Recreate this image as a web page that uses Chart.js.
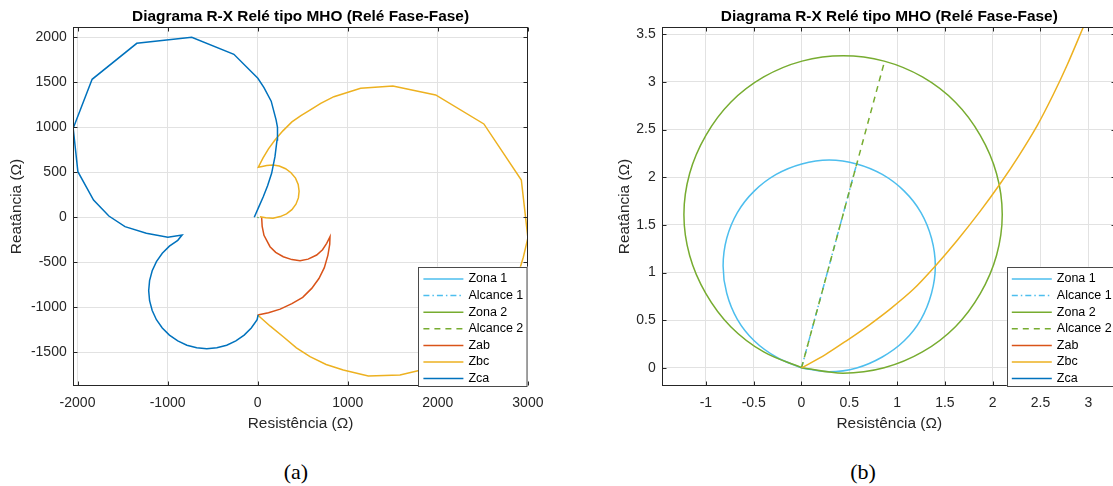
<!DOCTYPE html>
<html lang="pt-BR">
<head>
<meta charset="utf-8">
<title>Diagrama R-X Relé tipo MHO</title>
<script src="https://cdn.jsdelivr.net/npm/chart.js@4.4.1/dist/chart.umd.min.js"></script>
<style>
    body { margin: 0; background: #fff; }
    .figura { position: relative; width: 1113px; height: 486px; overflow: hidden; background: #fff; }
    #graficoA { position: absolute; left: 0; top: 0; }
    #graficoB { position: absolute; left: 560px; top: 0; }
    .rotulo_fig {
        position: absolute; top: 460px; width: 60px; text-align: center;
        font-family: "Liberation Serif", "Times New Roman", serif; font-size: 22px; line-height: 24px; color: #000;
    }
</style>
</head>
<body>
<div class="figura">
    <canvas id="graficoA" width="556" height="440"></canvas>
    <canvas id="graficoB" width="570" height="440"></canvas>
    <div class="rotulo_fig" style="left: 266px;">(a)</div>
    <div class="rotulo_fig" style="left: 833px;">(b)</div>
</div>
<script>
// Grafico (a): trajetorias das impedancias (ohms)
const zabR = [44, 50, 70, 137, 200, 284, 380, 470, 560, 655, 720, 766, 803, 800, 780, 740, 680, 600, 500, 380, 250, 120, 0];
const zabX = [0, -100, -200, -327, -390, -438, -470, -482, -465, -419, -360, -289, -215, -300, -420, -560, -680, -790, -890, -960, -1020, -1060, -1085];

const zbcR = [25, 90, 170, 250, 320, 380, 425, 452, 460, 450, 420, 370, 310, 240, 170, 100, 50, 7, 60, 120, 192, 280, 380, 480, 580, 700, 846, 1143, 1501, 1976, 2511, 2927, 3000, 2949, 2820, 2550, 2200, 1897, 1580, 1228, 950, 760, 581, 430, 284, 140, 0];
const zbcX = [7, -5, -10, 8, 38, 85, 145, 215, 290, 365, 435, 495, 540, 570, 580, 575, 565, 556, 660, 760, 859, 960, 1060, 1130, 1190, 1265, 1340, 1433, 1459, 1359, 1037, 414, -230, -444, -870, -1270, -1560, -1678, -1752, -1763, -1697, -1635, -1549, -1450, -1327, -1210, -1085];

const zcaR = [-38, 10, 62, 110, 155, 192, 215, 220, 205, 150, 70, 2, -264, -732, -1342, -1838, -2048, -1996, -1822, -1652, -1473, -1236, -997, -839,
    -887, -980, -1059, -1124, -1171, -1200, -1210, -1200, -1171, -1124, -1059, -980, -887, -786, -677, -565, -453, -344, -242, -150, -71, -6, 5];
const zcaX = [0, 110, 229, 350, 489, 673, 859, 1000, 1080, 1290, 1440, 1544, 1811, 2000, 1933, 1533, 989, 507, 192, 14, -104, -178, -222, -197,
    -256, -321, -400, -492, -594, -703, -815, -927, -1036, -1138, -1230, -1309, -1374, -1421, -1450, -1460, -1450, -1421, -1374, -1309, -1230, -1138, -1085];

// Grafico (b): zonas do rele MHO e Zbc perto da origem
const zona1R = [0.003, 0.29, 0.577, 0.845, 1.075, 1.25, 1.36, 1.40, 1.36, 1.25, 1.075, 0.845, 0.577, 0.29, 0.003, -0.265, -0.495, -0.671, -0.782, -0.82, -0.782, -0.671, -0.495, -0.265, 0.003];
const zona1X = [0.0, -0.04, 0.0, 0.115, 0.285, 0.51, 0.783, 1.07, 1.36, 1.63, 1.855, 2.03, 2.14, 2.18, 2.14, 2.03, 1.855, 1.63, 1.36, 1.07, 0.783, 0.51, 0.285, 0.115, 0.0];
const alcance1R = [0, 0.58];
const alcance1X = [0, 2.15];

const zona2R = [0.005, 0.435, 0.865, 1.265, 1.61, 1.87, 2.04, 2.10, 2.04, 1.87, 1.61, 1.265, 0.865, 0.435, 0.005, -0.395, -0.74, -1.0, -1.17, -1.23, -1.17, -1.0, -0.74, -0.395, 0.005];
const zona2X = [0.002, -0.055, 0.002, 0.168, 0.433, 0.78, 1.18, 1.61, 2.04, 2.44, 2.787, 3.052, 3.218, 3.275, 3.218, 3.052, 2.787, 2.44, 2.04, 1.61, 1.18, 0.78, 0.433, 0.168, 0.002];
const alcance2R = [0, 0.87];
const alcance2X = [0, 3.22];

const zbcBR = [0, 0.25, 0.47, 0.70, 0.93, 1.17, 1.40, 1.63, 1.87, 2.08, 2.27, 2.47, 2.63, 2.78, 2.95];
const zbcBX = [0, 0.14, 0.285, 0.445, 0.62, 0.825, 1.07, 1.34, 1.645, 1.935, 2.22, 2.55, 2.86, 3.18, 3.58];

// Marcas dos eixos
const xTicksA = [-2000, -1000, 0, 1000, 2000, 3000];
const yTicksA = [-1500, -1000, -500, 0, 500, 1000, 1500, 2000];
const xTicksB = [-1, -0.5, 0, 0.5, 1, 1.5, 2, 2.5, 3];
const yTicksB = [0, 0.5, 1, 1.5, 2, 2.5, 3, 3.5];

const nomes = ['Zona 1', 'Alcance 1', 'Zona 2', 'Alcance 2', 'Zab', 'Zbc', 'Zca'];
const cores = ['#4DBEEE', '#4DBEEE', '#77AC30', '#77AC30', '#D95319', '#EDB120', '#0072BD'];
const tracos = [[], [6, 3, 1.5, 3], [], [6, 5], [], [], []];

const tituloGrafico = 'Diagrama R-X Relé tipo MHO (Relé Fase-Fase)';
const corTexto = '#262626';
const corGrade = '#e2e2e2';

Chart.defaults.font.family = '"Liberation Sans", Arial, sans-serif';
Chart.defaults.color = corTexto;

function pontos(r, x) {
    return r.map((v, i) => ({ x: v, y: x[i] }));
}

function montarDatasets(curvas, tensoes) {
    return curvas.map((c, i) => ({
        label: nomes[i],
        data: pontos(c[0], c[1]),
        borderColor: cores[i],
        borderDash: tracos[i],
        borderWidth: 1.5,
        showLine: true,
        pointRadius: 0,
        fill: false,
        tension: tensoes[i],
        order: -i // as ultimas curvas ficam por cima, como no MATLAB
    }));
}

function desenharLegenda(chart) {
    const ctx = chart.ctx;
    const area = chart.chartArea;
    const largura = 109.5;
    const altura = 120;
    const x0 = area.right - largura;
    const y0 = area.bottom - altura + 1;

    ctx.save();
    ctx.fillStyle = '#ffffff';
    ctx.fillRect(x0, y0, largura, altura);
    ctx.strokeStyle = '#4a4a4a';
    ctx.lineWidth = 1;
    ctx.strokeRect(Math.round(x0) + 0.5, Math.round(y0) + 0.5, largura - 1, altura - 1);

    chart.data.datasets.forEach((ds, i) => {
        const y = y0 + 12.3 + i * 16.6;
        ctx.setLineDash(ds.borderDash);
        ctx.strokeStyle = ds.borderColor;
        ctx.lineWidth = 1.5;
        ctx.beginPath();
        ctx.moveTo(x0 + 5, y);
        ctx.lineTo(x0 + 45, y);
        ctx.stroke();
        ctx.setLineDash([]);
        ctx.fillStyle = '#000000';
        ctx.font = '12.5px "Liberation Sans", Arial, sans-serif';
        ctx.textBaseline = 'middle';
        ctx.fillText(ds.label, x0 + 50, y);
    });
    ctx.restore();
}

// caixa dos eixos com marcas internas e legenda por cima
const moldura = {
    id: 'moldura',
    afterDatasetsDraw(chart) {
        const ctx = chart.ctx;
        const a = chart.chartArea;
        const esq = Math.round(a.left) + 0.5, dir = Math.round(a.right) - 0.5;
        const topo = Math.round(a.top) + 0.5, base = Math.round(a.bottom) - 0.5;
        ctx.save();
        ctx.strokeStyle = corTexto;
        ctx.lineWidth = 1;
        ctx.strokeRect(esq, topo, dir - esq, base - topo);
        ctx.beginPath();
        chart.scales.x.ticks.forEach(t => {
            const px = Math.round(chart.scales.x.getPixelForValue(t.value)) + 0.5;
            ctx.moveTo(px, base); ctx.lineTo(px, base - 4);
            ctx.moveTo(px, topo); ctx.lineTo(px, topo + 4);
        });
        chart.scales.y.ticks.forEach(t => {
            const py = Math.round(chart.scales.y.getPixelForValue(t.value)) + 0.5;
            ctx.moveTo(esq, py); ctx.lineTo(esq + 4, py);
            ctx.moveTo(dir, py); ctx.lineTo(dir - 4, py);
        });
        ctx.stroke();
        ctx.restore();
    },
    afterDraw(chart) {
        desenharLegenda(chart);
    }
};

function opcoesGrafico(lim, marcasX, marcasY, larguraY, padTituloY, padDireita) {
    return {
        responsive: false,
        animation: false,
        layout: { padding: { left: 0, right: padDireita, top: 0, bottom: 0 } },
        plugins: {
            legend: { display: false },
            tooltip: { enabled: false },
            title: {
                display: true,
                text: tituloGrafico,
                fullSize: false,
                color: '#000000',
                font: { size: 15.4, weight: 'bold' },
                padding: { top: 8, bottom: 0.8 }
            }
        },
        scales: {
            x: {
                min: lim[0],
                max: lim[1],
                afterBuildTicks: s => { s.ticks = marcasX.map(v => ({ value: v })); },
                afterFit: s => { s.height = 440 - 385.7; },
                grid: { color: corGrade, drawTicks: false },
                border: { display: false },
                ticks: { padding: 9, autoSkip: false, maxRotation: 0, font: { size: 14 }, callback: v => String(v) },
                title: { display: true, text: 'Resistência (Ω)', font: { size: 15.4 }, padding: { top: 0, bottom: 7.5 } }
            },
            y: {
                min: lim[2],
                max: lim[3],
                afterBuildTicks: s => { s.ticks = marcasY.map(v => ({ value: v })); },
                afterFit: s => { s.width = larguraY; },
                grid: { color: corGrade, drawTicks: false },
                border: { display: false },
                ticks: { padding: 6.5, autoSkip: false, font: { size: 14 }, callback: v => String(v) },
                title: { display: true, text: 'Reatância (Ω)', font: { size: 15.4 }, padding: { top: padTituloY, bottom: 0 } }
            }
        }
    };
}

function desenharGraficoA() {
    const ctxA = document.getElementById('graficoA');
    new Chart(ctxA, {
        type: 'scatter',
        data: {
            datasets: montarDatasets(
                [[zona1R, zona1X], [alcance1R, alcance1X], [zona2R, zona2X], [alcance2R, alcance2X],
                 [zabR, zabX], [zbcR, zbcX], [zcaR, zcaX]],
                [0, 0, 0, 0, 0, 0, 0])
        },
        options: opcoesGrafico([-2048, 3000, -1871, 2111], xTicksA, yTicksA, 73.2, 7.5, 556 - 527.9),
        plugins: [moldura]
    });
}

function desenharGraficoB() {
    const ctxB = document.getElementById('graficoB');
    new Chart(ctxB, {
        type: 'scatter',
        data: {
            datasets: montarDatasets(
                [[zona1R, zona1X], [alcance1R, alcance1X], [zona2R, zona2X], [alcance2R, alcance2X],
                 [zabR, zabX], [zbcBR, zbcBX], [zcaR, zcaX]],
                [0.35, 0, 0.35, 0, 0, 0.3, 0])
        },
        options: opcoesGrafico([-1.456, 3.293, -0.186, 3.573], xTicksB, yTicksB, 102.3, 56, 570 - 556.3),
        plugins: [moldura]
    });
}

desenharGraficoA();
desenharGraficoB();
</script>
</body>
</html>
